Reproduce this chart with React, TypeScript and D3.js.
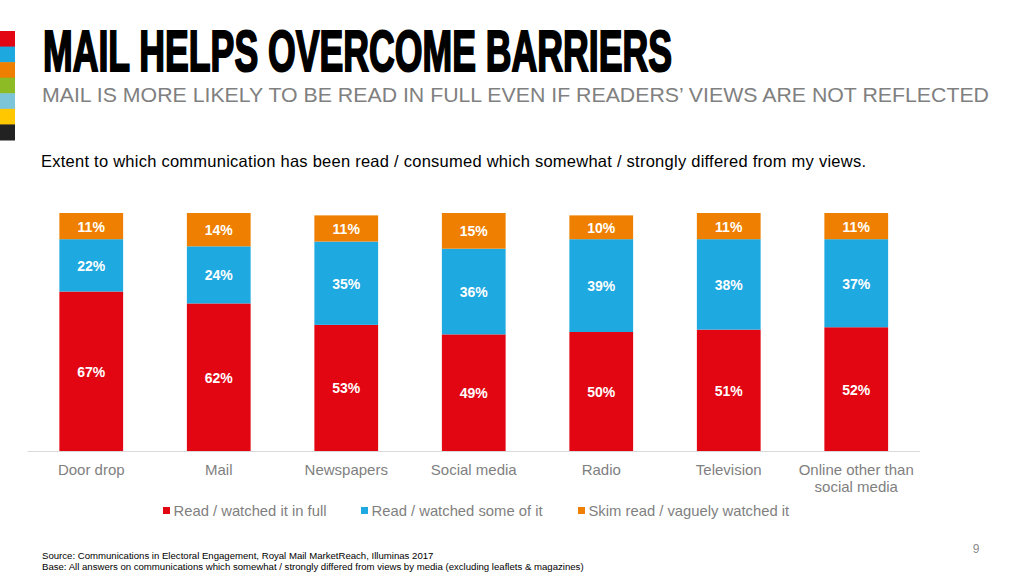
import React from "react";
import * as d3 from "d3";

const categories = ["Door drop", "Mail", "Newspapers", "Social media", "Radio", "Television", "Online other than\nsocial media"];
const readFull = [67, 62, 53, 49, 50, 51, 52];
const readSome = [22, 24, 35, 36, 39, 38, 37];
const skimRead = [11, 14, 11, 15, 10, 11, 11];
const seriesNames = ["Read / watched it in full", "Read / watched some of it", "Skim read / vaguely watched it"];
const seriesColors = ["#E20613", "#1FA9E1", "#EE7F01"];
const stripColors = ["#E30613", "#1EA8E0", "#EE7F00", "#8DBB25", "#7CC5D8", "#FFC700", "#222222"];

const W = 1024;
const H = 576;

export default function App() {
  const x = d3.scaleBand<string>().domain(categories).range([27.5, 920]).paddingInner(0.5).paddingOuter(0.25);
  const y = d3.scaleLinear().domain([0, 100]).range([451, 213]);

  const rows = categories.map((c, i) => ({ cat: c, full: readFull[i], some: readSome[i], skim: skimRead[i] }));
  const stack = d3.stack<any>().keys(["full", "some", "skim"])(rows);

  const stripY = d3.scaleBand<number>().domain(d3.range(stripColors.length)).range([31, 140]);

  const legendX = [163, 361, 578];

  return (
    <svg width={W} height={H} style={{ position: "absolute", left: 0, top: 0, background: "#fff" }}>
      {stripColors.map((c, i) => (
        <rect key={i} x={0} y={stripY(i)!} width={15} height={stripY.bandwidth() + 0.5} fill={c} />
      ))}
      <text x={43} y={70.5} fontFamily="'Liberation Sans Narrow', 'Liberation Sans', sans-serif" fontWeight="bold" fontSize={56.5}
        textLength={629} lengthAdjust="spacingAndGlyphs" fill="#000" stroke="#000" strokeWidth={2}>
        MAIL HELPS OVERCOME BARRIERS
      </text>
      <text x={42} y={102} fontFamily="'Liberation Sans', Arial, sans-serif" fontSize={21} fill="#808080"
        textLength={947} lengthAdjust="spacingAndGlyphs">
        MAIL IS MORE LIKELY TO BE READ IN FULL EVEN IF READERS’ VIEWS ARE NOT REFLECTED
      </text>
      <text x={41} y={167} fontFamily="'Liberation Sans', Arial, sans-serif" fontSize={16.5} fill="#000"
        textLength={825} lengthAdjust="spacing">
        Extent to which communication has been read / consumed which somewhat / strongly differed from my views.
      </text>

      <line x1={27.5} x2={920} y1={451.5} y2={451.5} stroke="#d9d9d9" strokeWidth={1} />

      {stack.map((layer, si) => (
        <g key={si}>
          {layer.map((d, i) => {
            const cat = categories[i];
            const y0 = y(d[0]);
            const y1 = y(d[1]);
            const v = d[1] - d[0];
            return (
              <g key={i}>
                <rect x={x(cat)!} y={y1} width={x.bandwidth()} height={y0 - y1} fill={seriesColors[si]} />
                <text x={x(cat)! + x.bandwidth() / 2} y={(y0 + y1) / 2 + 5.5} textAnchor="middle"
                  fontFamily="'Liberation Sans', Arial, sans-serif" fontWeight="bold" fontSize={14} fill="#fff">
                  {v}%
                </text>
              </g>
            );
          })}
        </g>
      ))}

      {categories.map((c) => (
        <text key={c} x={x(c)! + x.bandwidth() / 2} y={474.5} textAnchor="middle"
          fontFamily="'Liberation Sans', Arial, sans-serif" fontSize={15} fill="#7f7f7f">
          {c.split("\n").map((line, li) => (
            <tspan key={li} x={x(c)! + x.bandwidth() / 2} dy={li === 0 ? 0 : 17.5}>{line}</tspan>
          ))}
        </text>
      ))}

      {seriesNames.map((n, i) => (
        <g key={n}>
          <rect x={legendX[i]} y={507} width={7} height={7} fill={seriesColors[i]} />
          <text x={legendX[i] + 10.5} y={516} fontFamily="'Liberation Sans', Arial, sans-serif" fontSize={14.8} fill="#7f7f7f">{n}</text>
        </g>
      ))}

      <text x={42} y={559} fontFamily="'Liberation Sans', Arial, sans-serif" fontSize={9.6} fill="#000">
        Source:  Communications in Electoral Engagement, Royal Mail MarketReach, Illuminas 2017
      </text>
      <text x={42} y={570} fontFamily="'Liberation Sans', Arial, sans-serif" fontSize={9.6} fill="#000">
        Base: All answers on communications which somewhat / strongly differed from views by media (excluding leaflets &amp; magazines)
      </text>
      <text x={976} y={553} textAnchor="middle" fontFamily="'Liberation Sans', Arial, sans-serif" fontSize={12} fill="#8c8c8c">9</text>
    </svg>
  );
}
